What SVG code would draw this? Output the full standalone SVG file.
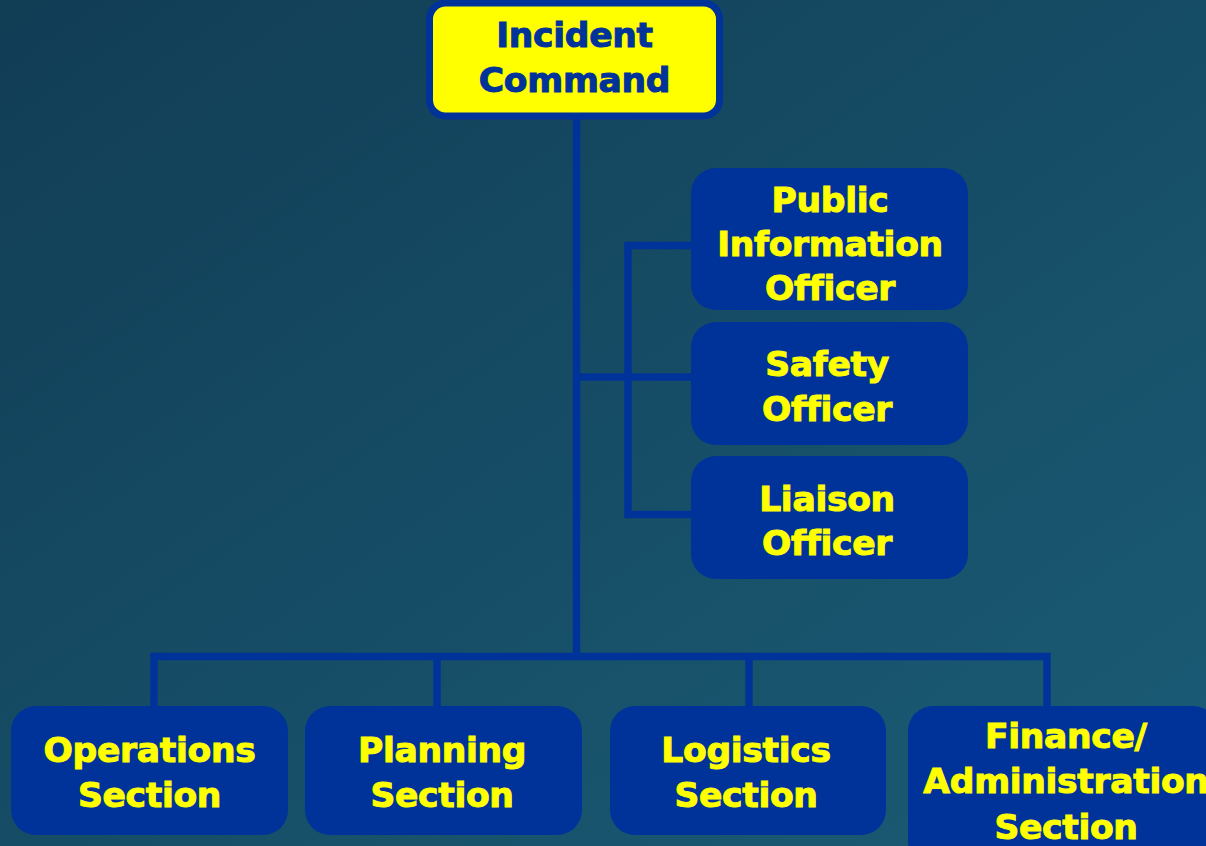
<svg xmlns="http://www.w3.org/2000/svg" width="1206" height="846" viewBox="0 0 1206 846">
<defs>
<linearGradient id="bg" x1="0" y1="0" x2="1" y2="1">
<stop offset="0" stop-color="#113d55"/>
<stop offset="1" stop-color="#1b5c76"/>
</linearGradient>
<style>
.box{fill:#003399}
.lbl{font-family:"DejaVu Sans","Verdana",sans-serif;font-weight:bold;font-size:34.5px;fill:#ffff00;stroke:#ffff00;stroke-width:1;text-anchor:middle;font-variant-ligatures:none;letter-spacing:-0.3px}
.lblb{fill:#003399;stroke:#003399}
.ln{stroke:#003399;stroke-width:7.5;fill:none}
</style>
</defs>
<rect width="1206" height="846" fill="url(#bg)"/>
<g id="connectors">
<line class="ln" x1="576.5" y1="115" x2="576.5" y2="660"/>
<polyline class="ln" points="154,710 154,656.5 1047,656.5 1047,710"/>
<line class="ln" x1="437" y1="656.5" x2="437" y2="710"/>
<line class="ln" x1="749" y1="656.5" x2="749" y2="710"/>
<line class="ln" x1="576.5" y1="377" x2="695" y2="377"/>
<polyline class="ln" points="695,245.5 628,245.5 628,514.5 695,514.5"/>
</g>
<g id="incident-command">
<rect x="429.5" y="3" width="290" height="113" rx="16" fill="#ffff00" stroke="#003399" stroke-width="7"/>
<text class="lbl lblb" x="574.5" y="47">Incident</text>
<text class="lbl lblb" x="574.5" y="92">Command</text>
</g>
<g id="pio">
<rect class="box" x="691" y="168" width="277" height="142" rx="25"/>
<text class="lbl" x="830" y="212">Public</text>
<text class="lbl" x="830" y="256">Information</text>
<text class="lbl" x="830" y="300">Officer</text>
</g>
<g id="safety">
<rect class="box" x="691" y="322" width="277" height="123" rx="25"/>
<text class="lbl" x="827" y="376">Safety</text>
<text class="lbl" x="827" y="421">Officer</text>
</g>
<g id="liaison">
<rect class="box" x="691" y="456" width="277" height="123" rx="25"/>
<text class="lbl" x="827" y="511">Liaison</text>
<text class="lbl" x="827" y="555">Officer</text>
</g>
<g id="operations">
<rect class="box" x="11" y="706" width="277" height="129" rx="25"/>
<text class="lbl" x="149.5" y="762">Operations</text>
<text class="lbl" x="149.5" y="807">Section</text>
</g>
<g id="planning">
<rect class="box" x="305" y="706" width="277" height="129" rx="25"/>
<text class="lbl" x="442" y="762">Planning</text>
<text class="lbl" x="442" y="807">Section</text>
</g>
<g id="logistics">
<rect class="box" x="610" y="706" width="276" height="129" rx="25"/>
<text class="lbl" x="746" y="762">Logistics</text>
<text class="lbl" x="746" y="807">Section</text>
</g>
<g id="finance">
<rect class="box" x="908" y="706" width="310" height="160" rx="25"/>
<text class="lbl" x="1066" y="748">Finance/</text>
<text class="lbl" x="1066" y="793">Administration</text>
<text class="lbl" x="1066" y="839">Section</text>
</g>
</svg>
